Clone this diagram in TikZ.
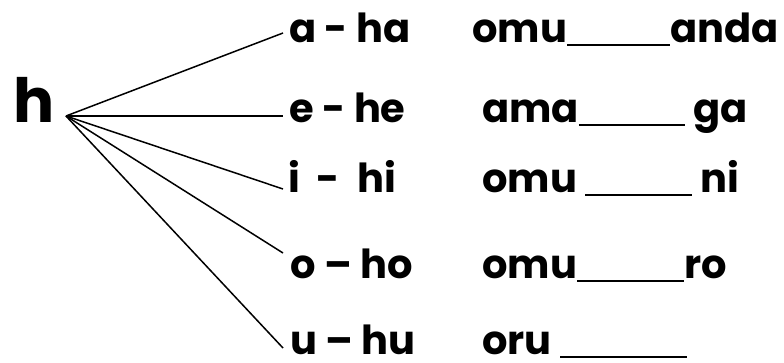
\documentclass[tikz,border=0pt]{standalone}
\usepackage{fontspec}
\setmainfont{Poppins}
\usepackage{tikz}
\usetikzlibrary{positioning}

\newcommand{\blank}[1]{\rule[-4pt]{#1pt}{2.4pt}}

\begin{document}
\begin{tikzpicture}[
  x=1pt, y=-1pt,
  sound/.style={anchor=base west, inner sep=0pt, font=\fontsize{40}{40}\selectfont\bfseries},
  word/.style={anchor=base west, inner sep=0pt, font=\fontsize{40}{40}\selectfont\bfseries},
  line/.style={line width=1.5pt}
]
\useasboundingbox (0,0) rectangle (784,362);
\node[anchor=base west, inner sep=0pt, font=\fontsize{61}{61}\selectfont\bfseries] (h) at (13,122) {h};
\coordinate (hub) at (66,116);
% the five sounds
\node[sound] (sa) at (289,42) {a - ha};
\node[sound] (se) at (289,122) {e - he};
\node[sound] (si) at (288,192) {i\ \ -\ \ hi};
\node[sound] (so) at (290,278) {o – ho};
\node[sound] (su) at (290,354) {u – hu};
% words to complete
\node[word] (wa) at (472,42) {omu\blank{103}anda};
\node[word] (we) at (482,122) {ama\blank{106} ga};
\node[word] (wi) at (482,192) {omu \blank{107} ni};
\node[word] (wo) at (482,278) {omu\blank{107}ro};
\node[word] (wu) at (482,354) {oru \blank{127}};
% line ends
\coordinate (ea) at (283,33);
\coordinate (ee) at (283,116);
\coordinate (ei) at (283,189);
\coordinate (eo) at (283,253);
\coordinate (eu) at (283,348);
\foreach \e in {ea,ee,ei,eo,eu}
  \draw[line] (hub) -- (\e);
\end{tikzpicture}
\end{document}
